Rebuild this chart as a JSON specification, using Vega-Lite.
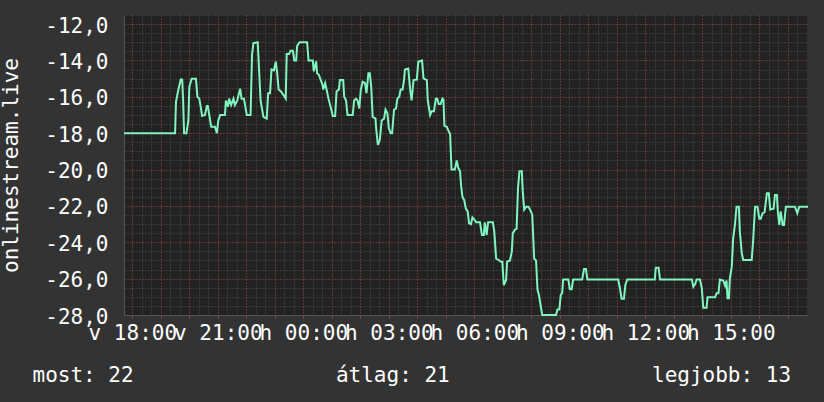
{
  "$schema": "https://vega.github.io/schema/vega-lite/v6.json",
  "width": 684,
  "height": 300,
  "autosize": "none",
  "padding": {"left": 124, "top": 15, "right": 16, "bottom": 87},
  "background": "#333333",
  "config": {
    "view": {"fill": "#222222", "stroke": null},
    "font": "DejaVu Sans Mono",
    "locale": {
      "number": {"decimal": ",", "thousands": " ", "grouping": [3], "currency": ["", " Ft"], "minus": "-"},
      "time": {
        "dateTime": "%Y. %B %-e., %A %X",
        "date": "%Y. %m. %d.",
        "time": "%H:%M:%S",
        "periods": ["de.", "du."],
        "days": ["vasárnap", "hétfő", "kedd", "szerda", "csütörtök", "péntek", "szombat"],
        "shortDays": ["v", "h", "k", "sze", "cs", "p", "szo"],
        "months": ["január", "február", "március", "április", "május", "június", "július", "augusztus", "szeptember", "október", "november", "december"],
        "shortMonths": ["jan", "feb", "már", "ápr", "máj", "jún", "júl", "aug", "szep", "okt", "nov", "dec"]
      }
    }
  },
  "data": {
    "values": [
      {"t": "2024-01-07T17:42:30", "v": -18},
      {"t": "2024-01-07T19:30", "v": -18},
      {"t": "2024-01-07T19:32", "v": -16.27},
      {"t": "2024-01-07T19:37", "v": -15.6},
      {"t": "2024-01-07T19:42", "v": -15.05},
      {"t": "2024-01-07T19:45", "v": -15.05},
      {"t": "2024-01-07T19:47", "v": -16.2},
      {"t": "2024-01-07T19:49", "v": -18},
      {"t": "2024-01-07T19:54", "v": -18},
      {"t": "2024-01-07T19:58", "v": -17.3},
      {"t": "2024-01-07T20:00", "v": -15.45},
      {"t": "2024-01-07T20:05", "v": -15},
      {"t": "2024-01-07T20:14", "v": -15},
      {"t": "2024-01-07T20:17", "v": -16},
      {"t": "2024-01-07T20:21", "v": -16.1},
      {"t": "2024-01-07T20:24", "v": -16.55},
      {"t": "2024-01-07T20:27", "v": -17.05},
      {"t": "2024-01-07T20:33", "v": -17},
      {"t": "2024-01-07T20:37", "v": -16.5},
      {"t": "2024-01-07T20:39", "v": -16.5},
      {"t": "2024-01-07T20:42", "v": -17},
      {"t": "2024-01-07T20:46", "v": -17.65},
      {"t": "2024-01-07T20:54", "v": -17.65},
      {"t": "2024-01-07T20:58", "v": -18},
      {"t": "2024-01-07T21:01", "v": -17.3},
      {"t": "2024-01-07T21:05", "v": -17},
      {"t": "2024-01-07T21:15", "v": -17},
      {"t": "2024-01-07T21:17", "v": -16.2},
      {"t": "2024-01-07T21:21", "v": -16.55},
      {"t": "2024-01-07T21:24", "v": -16.1},
      {"t": "2024-01-07T21:28", "v": -16.45},
      {"t": "2024-01-07T21:33", "v": -16.1},
      {"t": "2024-01-07T21:36", "v": -16.45},
      {"t": "2024-01-07T21:41", "v": -16.2},
      {"t": "2024-01-07T21:47", "v": -15.55},
      {"t": "2024-01-07T21:50", "v": -16.1},
      {"t": "2024-01-07T21:55", "v": -16.1},
      {"t": "2024-01-07T22:01", "v": -17},
      {"t": "2024-01-07T22:09", "v": -17},
      {"t": "2024-01-07T22:12", "v": -13.7},
      {"t": "2024-01-07T22:15", "v": -13.05},
      {"t": "2024-01-07T22:24", "v": -13},
      {"t": "2024-01-07T22:27", "v": -14.6},
      {"t": "2024-01-07T22:30", "v": -16.2},
      {"t": "2024-01-07T22:36", "v": -17.1},
      {"t": "2024-01-07T22:43", "v": -17.2},
      {"t": "2024-01-07T22:46", "v": -15.8},
      {"t": "2024-01-07T22:50", "v": -15.8},
      {"t": "2024-01-07T22:53", "v": -14.5},
      {"t": "2024-01-07T22:58", "v": -14.55},
      {"t": "2024-01-07T23:02", "v": -14.07},
      {"t": "2024-01-07T23:05", "v": -14.7},
      {"t": "2024-01-07T23:08", "v": -15.6},
      {"t": "2024-01-07T23:13", "v": -15.7},
      {"t": "2024-01-07T23:18", "v": -15.9},
      {"t": "2024-01-07T23:23", "v": -16.1},
      {"t": "2024-01-07T23:25", "v": -13.65},
      {"t": "2024-01-07T23:30", "v": -13.65},
      {"t": "2024-01-07T23:33", "v": -13.47},
      {"t": "2024-01-07T23:38", "v": -13.47},
      {"t": "2024-01-07T23:41", "v": -14},
      {"t": "2024-01-07T23:45", "v": -14},
      {"t": "2024-01-07T23:47", "v": -13.2},
      {"t": "2024-01-07T23:52", "v": -13},
      {"t": "2024-01-08T00:08", "v": -13},
      {"t": "2024-01-08T00:11", "v": -14},
      {"t": "2024-01-08T00:20", "v": -14},
      {"t": "2024-01-08T00:22", "v": -14.6},
      {"t": "2024-01-08T00:27", "v": -14.05},
      {"t": "2024-01-08T00:29", "v": -14.7},
      {"t": "2024-01-08T00:33", "v": -14.8},
      {"t": "2024-01-08T00:37", "v": -15.1},
      {"t": "2024-01-08T00:40", "v": -15.3},
      {"t": "2024-01-08T00:42", "v": -15.6},
      {"t": "2024-01-08T00:46", "v": -15.25},
      {"t": "2024-01-08T00:49", "v": -15.6},
      {"t": "2024-01-08T00:53", "v": -16.1},
      {"t": "2024-01-08T00:58", "v": -16.6},
      {"t": "2024-01-08T01:02", "v": -17.05},
      {"t": "2024-01-08T01:07", "v": -17.05},
      {"t": "2024-01-08T01:10", "v": -15.7},
      {"t": "2024-01-08T01:15", "v": -15.6},
      {"t": "2024-01-08T01:17", "v": -15.08},
      {"t": "2024-01-08T01:24", "v": -15.08},
      {"t": "2024-01-08T01:26", "v": -16},
      {"t": "2024-01-08T01:30", "v": -16.2},
      {"t": "2024-01-08T01:33", "v": -17},
      {"t": "2024-01-08T01:44", "v": -17},
      {"t": "2024-01-08T01:47", "v": -16.2},
      {"t": "2024-01-08T01:51", "v": -16.1},
      {"t": "2024-01-08T01:54", "v": -16.2},
      {"t": "2024-01-08T01:58", "v": -16.64},
      {"t": "2024-01-08T02:01", "v": -15.6},
      {"t": "2024-01-08T02:05", "v": -15.17},
      {"t": "2024-01-08T02:10", "v": -15.25},
      {"t": "2024-01-08T02:13", "v": -15.8},
      {"t": "2024-01-08T02:17", "v": -14.7},
      {"t": "2024-01-08T02:20", "v": -14.7},
      {"t": "2024-01-08T02:23", "v": -15.45},
      {"t": "2024-01-08T02:26", "v": -17.1},
      {"t": "2024-01-08T02:32", "v": -17.2},
      {"t": "2024-01-08T02:33", "v": -17.65},
      {"t": "2024-01-08T02:37", "v": -18.65},
      {"t": "2024-01-08T02:41", "v": -18.38},
      {"t": "2024-01-08T02:45", "v": -17.3},
      {"t": "2024-01-08T02:50", "v": -17.2},
      {"t": "2024-01-08T02:53", "v": -16.7},
      {"t": "2024-01-08T02:57", "v": -16.9},
      {"t": "2024-01-08T03:00", "v": -17.73},
      {"t": "2024-01-08T03:04", "v": -18},
      {"t": "2024-01-08T03:07", "v": -18},
      {"t": "2024-01-08T03:11", "v": -16.7},
      {"t": "2024-01-08T03:15", "v": -16.65},
      {"t": "2024-01-08T03:18", "v": -16.1},
      {"t": "2024-01-08T03:22", "v": -16},
      {"t": "2024-01-08T03:25", "v": -15.6},
      {"t": "2024-01-08T03:29", "v": -15.6},
      {"t": "2024-01-08T03:32", "v": -15.08},
      {"t": "2024-01-08T03:34", "v": -14.5},
      {"t": "2024-01-08T03:41", "v": -14.45},
      {"t": "2024-01-08T03:45", "v": -15.6},
      {"t": "2024-01-08T03:48", "v": -16.2},
      {"t": "2024-01-08T03:52", "v": -15.08},
      {"t": "2024-01-08T03:59", "v": -15.05},
      {"t": "2024-01-08T04:02", "v": -14.07},
      {"t": "2024-01-08T04:10", "v": -14},
      {"t": "2024-01-08T04:13", "v": -14.98},
      {"t": "2024-01-08T04:20", "v": -15.08},
      {"t": "2024-01-08T04:22", "v": -16.2},
      {"t": "2024-01-08T04:27", "v": -17},
      {"t": "2024-01-08T04:30", "v": -16.8},
      {"t": "2024-01-08T04:35", "v": -16.8},
      {"t": "2024-01-08T04:39", "v": -16.1},
      {"t": "2024-01-08T04:42", "v": -16.1},
      {"t": "2024-01-08T04:45", "v": -16.4},
      {"t": "2024-01-08T04:49", "v": -16.4},
      {"t": "2024-01-08T04:53", "v": -16.1},
      {"t": "2024-01-08T04:55", "v": -16.15},
      {"t": "2024-01-08T04:57", "v": -17.6},
      {"t": "2024-01-08T05:02", "v": -17.65},
      {"t": "2024-01-08T05:05", "v": -17.83},
      {"t": "2024-01-08T05:09", "v": -18.05},
      {"t": "2024-01-08T05:12", "v": -20},
      {"t": "2024-01-08T05:19", "v": -20},
      {"t": "2024-01-08T05:23", "v": -19.5},
      {"t": "2024-01-08T05:26", "v": -19.9},
      {"t": "2024-01-08T05:30", "v": -20.1},
      {"t": "2024-01-08T05:32", "v": -20.85},
      {"t": "2024-01-08T05:35", "v": -21.5},
      {"t": "2024-01-08T05:39", "v": -21.7},
      {"t": "2024-01-08T05:42", "v": -22.13},
      {"t": "2024-01-08T05:46", "v": -22.3},
      {"t": "2024-01-08T05:49", "v": -22.96},
      {"t": "2024-01-08T05:53", "v": -23},
      {"t": "2024-01-08T05:56", "v": -22.63},
      {"t": "2024-01-08T06:00", "v": -22.75},
      {"t": "2024-01-08T06:04", "v": -22.9},
      {"t": "2024-01-08T06:12", "v": -22.9},
      {"t": "2024-01-08T06:16", "v": -23.6},
      {"t": "2024-01-08T06:20", "v": -23.6},
      {"t": "2024-01-08T06:22", "v": -22.9},
      {"t": "2024-01-08T06:26", "v": -23.6},
      {"t": "2024-01-08T06:29", "v": -22.9},
      {"t": "2024-01-08T06:39", "v": -22.9},
      {"t": "2024-01-08T06:42", "v": -23.4},
      {"t": "2024-01-08T06:46", "v": -24.9},
      {"t": "2024-01-08T06:50", "v": -24.95},
      {"t": "2024-01-08T06:56", "v": -25.07},
      {"t": "2024-01-08T06:59", "v": -25.07},
      {"t": "2024-01-08T07:02", "v": -26.35},
      {"t": "2024-01-08T07:07", "v": -26.07},
      {"t": "2024-01-08T07:09", "v": -25.07},
      {"t": "2024-01-08T07:15", "v": -25},
      {"t": "2024-01-08T07:19", "v": -24.5},
      {"t": "2024-01-08T07:21", "v": -23.5},
      {"t": "2024-01-08T07:26", "v": -23.3},
      {"t": "2024-01-08T07:29", "v": -23.25},
      {"t": "2024-01-08T07:32", "v": -21.03},
      {"t": "2024-01-08T07:35", "v": -20.1},
      {"t": "2024-01-08T07:40", "v": -20.1},
      {"t": "2024-01-08T07:42", "v": -21.2},
      {"t": "2024-01-08T07:45", "v": -22.2},
      {"t": "2024-01-08T07:49", "v": -22.05},
      {"t": "2024-01-08T07:54", "v": -22.05},
      {"t": "2024-01-08T07:59", "v": -22.3},
      {"t": "2024-01-08T08:02", "v": -22.5},
      {"t": "2024-01-08T08:06", "v": -24.9},
      {"t": "2024-01-08T08:10", "v": -25},
      {"t": "2024-01-08T08:13", "v": -26.6},
      {"t": "2024-01-08T08:16", "v": -26.9},
      {"t": "2024-01-08T08:20", "v": -27.54},
      {"t": "2024-01-08T08:23", "v": -28},
      {"t": "2024-01-08T08:52", "v": -28},
      {"t": "2024-01-08T08:55", "v": -27.7},
      {"t": "2024-01-08T08:59", "v": -27.7},
      {"t": "2024-01-08T09:02", "v": -26.9},
      {"t": "2024-01-08T09:05", "v": -26.8},
      {"t": "2024-01-08T09:07", "v": -26.05},
      {"t": "2024-01-08T09:18", "v": -26.05},
      {"t": "2024-01-08T09:21", "v": -26.58},
      {"t": "2024-01-08T09:25", "v": -26.58},
      {"t": "2024-01-08T09:28", "v": -26.05},
      {"t": "2024-01-08T09:47", "v": -26.05},
      {"t": "2024-01-08T09:51", "v": -25.47},
      {"t": "2024-01-08T09:55", "v": -25.47},
      {"t": "2024-01-08T09:58", "v": -26.05},
      {"t": "2024-01-08T11:03", "v": -26.05},
      {"t": "2024-01-08T11:07", "v": -26.6},
      {"t": "2024-01-08T11:10", "v": -27.1},
      {"t": "2024-01-08T11:15", "v": -27.1},
      {"t": "2024-01-08T11:18", "v": -26.35},
      {"t": "2024-01-08T11:22", "v": -26.05},
      {"t": "2024-01-08T12:20", "v": -26.05},
      {"t": "2024-01-08T12:22", "v": -25.4},
      {"t": "2024-01-08T12:28", "v": -25.4},
      {"t": "2024-01-08T12:31", "v": -26.05},
      {"t": "2024-01-08T13:38", "v": -26.05},
      {"t": "2024-01-08T13:41", "v": -26.45},
      {"t": "2024-01-08T13:45", "v": -26.3},
      {"t": "2024-01-08T13:48", "v": -26.05},
      {"t": "2024-01-08T13:55", "v": -26.05},
      {"t": "2024-01-08T13:59", "v": -26.53},
      {"t": "2024-01-08T14:02", "v": -27.6},
      {"t": "2024-01-08T14:09", "v": -27.6},
      {"t": "2024-01-08T14:11", "v": -27.03},
      {"t": "2024-01-08T14:27", "v": -27.03},
      {"t": "2024-01-08T14:30", "v": -26.8},
      {"t": "2024-01-08T14:34", "v": -26.8},
      {"t": "2024-01-08T14:37", "v": -26.05},
      {"t": "2024-01-08T14:44", "v": -26.1},
      {"t": "2024-01-08T14:48", "v": -26.4},
      {"t": "2024-01-08T14:51", "v": -26.1},
      {"t": "2024-01-08T14:53", "v": -27.08},
      {"t": "2024-01-08T14:56", "v": -27.08},
      {"t": "2024-01-08T14:58", "v": -26},
      {"t": "2024-01-08T15:02", "v": -25.34},
      {"t": "2024-01-08T15:05", "v": -23.78},
      {"t": "2024-01-08T15:09", "v": -22.96},
      {"t": "2024-01-08T15:12", "v": -22.04},
      {"t": "2024-01-08T15:17", "v": -22.04},
      {"t": "2024-01-08T15:19", "v": -23.4},
      {"t": "2024-01-08T15:23", "v": -24.57},
      {"t": "2024-01-08T15:26", "v": -24.97},
      {"t": "2024-01-08T15:44", "v": -24.97},
      {"t": "2024-01-08T15:47", "v": -23.9},
      {"t": "2024-01-08T15:51", "v": -22.04},
      {"t": "2024-01-08T15:56", "v": -22.04},
      {"t": "2024-01-08T16:00", "v": -22.7},
      {"t": "2024-01-08T16:03", "v": -22.7},
      {"t": "2024-01-08T16:07", "v": -22.4},
      {"t": "2024-01-08T16:11", "v": -22.35},
      {"t": "2024-01-08T16:16", "v": -21.3},
      {"t": "2024-01-08T16:20", "v": -21.3},
      {"t": "2024-01-08T16:23", "v": -22.2},
      {"t": "2024-01-08T16:30", "v": -22.15},
      {"t": "2024-01-08T16:33", "v": -21.4},
      {"t": "2024-01-08T16:37", "v": -21.4},
      {"t": "2024-01-08T16:39", "v": -22.3},
      {"t": "2024-01-08T16:42", "v": -23.05},
      {"t": "2024-01-08T16:45", "v": -22.3},
      {"t": "2024-01-08T16:49", "v": -23.05},
      {"t": "2024-01-08T16:52", "v": -23.05},
      {"t": "2024-01-08T16:56", "v": -22.04},
      {"t": "2024-01-08T17:15", "v": -22.04},
      {"t": "2024-01-08T17:20", "v": -22.4},
      {"t": "2024-01-08T17:24", "v": -22.04},
      {"t": "2024-01-08T17:42:30", "v": -22.04}
    ]
  },
  "layer": [
    {
      "mark": {"type": "line", "opacity": 0},
      "encoding": {
        "x": {
          "field": "t", "type": "temporal",
          "axis": {"orient": "bottom", "title": null, "labels": false, "ticks": false, "domain": false, "grid": true, "gridColor": "#505050", "gridDash": [1, 2],
            "values": [1704649200000, 1704650400000, 1704651600000, 1704652800000, 1704654000000, 1704655200000, 1704656400000, 1704657600000, 1704658800000, 1704660000000, 1704661200000, 1704662400000, 1704663600000, 1704664800000, 1704666000000, 1704667200000, 1704668400000, 1704669600000, 1704670800000, 1704672000000, 1704673200000, 1704674400000, 1704675600000, 1704676800000, 1704678000000, 1704679200000, 1704680400000, 1704681600000, 1704682800000, 1704684000000, 1704685200000, 1704686400000, 1704687600000, 1704688800000, 1704690000000, 1704691200000, 1704692400000, 1704693600000, 1704694800000, 1704696000000, 1704697200000, 1704698400000, 1704699600000, 1704700800000, 1704702000000, 1704703200000, 1704704400000, 1704705600000, 1704706800000, 1704708000000, 1704709200000, 1704710400000, 1704711600000, 1704712800000, 1704714000000, 1704715200000, 1704716400000, 1704717600000, 1704718800000, 1704720000000, 1704721200000, 1704722400000, 1704723600000, 1704724800000, 1704726000000, 1704727200000, 1704728400000, 1704729600000, 1704730800000, 1704732000000, 1704733200000, 1704734400000, 1704735600000]}
        },
        "y": {
          "field": "v", "type": "quantitative",
          "scale": {"domain": [-28, -11.5], "nice": false, "zero": false},
          "axis": {"orient": "left", "title": null, "labels": false, "ticks": false, "domain": false, "grid": true, "gridColor": "#505050", "gridDash": [1, 2],
            "values": [-28, -27.5, -27, -26.5, -26, -25.5, -25, -24.5, -24, -23.5, -23, -22.5, -22, -21.5, -21, -20.5, -20, -19.5, -19, -18.5, -18, -17.5, -17, -16.5, -16, -15.5, -15, -14.5, -14, -13.5, -13, -12.5, -12, -11.5]}
        }
      }
    },
    {
      "mark": {"type": "line", "opacity": 0},
      "encoding": {
        "x": {
          "field": "t", "type": "temporal",
          "axis": {"orient": "bottom", "tickCount": 8, "grid": false, "ticks": false, "domain": false,
            "format": "%a %H:%M",
            "labelFontSize": 21, "labelColor": "#ffffff", "labelPadding": 7, "labelOverlap": false, "labelFlush": false,
            "title": "most: 22\u00a0\u00a0\u00a0\u00a0\u00a0\u00a0\u00a0\u00a0\u00a0\u00a0\u00a0\u00a0\u00a0\u00a0\u00a0\u00a0átlag: 21\u00a0\u00a0\u00a0\u00a0\u00a0\u00a0\u00a0\u00a0\u00a0\u00a0\u00a0\u00a0\u00a0\u00a0\u00a0\u00a0legjobb: 13",
            "titleFontSize": 21, "titleFontWeight": "normal", "titleColor": "#ffffff",
            "titleX": -92, "titleY": 66, "titleAlign": "left", "titleBaseline": "alphabetic"}
        },
        "y": {
          "field": "v", "type": "quantitative",
          "scale": {"domain": [-28, -11.5], "nice": false, "zero": false},
          "axis": {
            "orient": "left",
            "values": [-28, -26, -24, -22, -20, -18, -16, -14, -12],
            "grid": true, "gridColor": "#8a3838", "gridDash": [1, 2],
            "ticks": false,
            "domainColor": "#555555",
            "format": ".1f",
            "labelFontSize": 21, "labelColor": "#ffffff",
            "labelPadding": 16, "labelOffset": 2,
            "title": "onlinestream.live",
            "titleFontSize": 21, "titleFontWeight": "normal", "titleColor": "#ffffff",
            "titlePadding": 23
          }
        }
      }
    },
    {
      "mark": {"type": "line", "color": "#80f5c0", "strokeWidth": 2},
      "encoding": {
        "x": {
          "field": "t", "type": "temporal",
          "axis": {
            "orient": "bottom", "title": null, "labels": false,
            "tickCount": 24,
            "grid": true, "gridColor": "#8a3838", "gridDash": [1, 2],
            "tickSize": 3, "tickColor": "#9a3c3c",
            "domainColor": "#555555"
          }
        },
        "y": {
          "field": "v", "type": "quantitative",
          "scale": {"domain": [-28, -11.5], "nice": false, "zero": false},
          "axis": null
        }
      }
    }
  ],
  "resolve": {"axis": {"x": "independent", "y": "independent"}}
}
